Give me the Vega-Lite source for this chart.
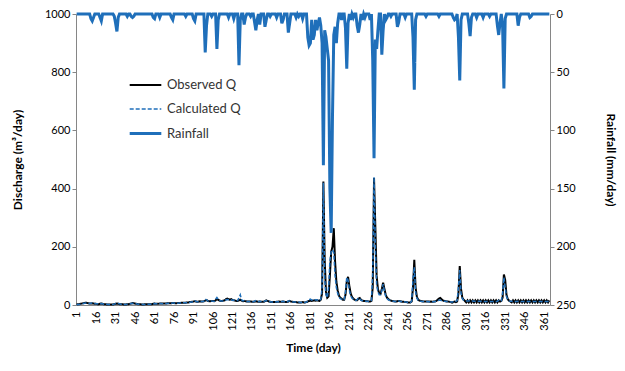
{
  "$schema": "https://vega.github.io/schema/vega-lite/v6.json",
  "width": 474,
  "height": 291,
  "autosize": "none",
  "padding": {"left": 76, "top": 14, "right": 75, "bottom": 66},
  "background": "white",
  "config": {
    "font": "Lato",
    "view": {"stroke": null},
    "axis": {"grid": false, "domainColor": "#868686", "tickColor": "#868686", "labelColor": "#000000", "labelFont": "Lato", "labelFontSize": 11, "titleFont": "Lato", "titleFontSize": 12, "titleFontWeight": "bold", "titleColor": "#000000", "tickSize": 4}
  },
  "data": {"values": [
{"d":1,"o":2,"c":1,"r":0},{"d":2,"o":3,"c":2,"r":0},{"d":3,"o":3,"c":2,"r":0},{"d":4,"o":4,"c":3,"r":0},{"d":5,"o":5,"c":4,"r":0},
{"d":6,"o":6,"c":5,"r":0},{"d":7,"o":7,"c":6,"r":0},{"d":8,"o":8,"c":7,"r":0},{"d":9,"o":7,"c":6,"r":0},{"d":10,"o":6,"c":5,"r":0},
{"d":11,"o":5,"c":5,"r":0},{"d":12,"o":5,"c":6,"r":4},{"d":13,"o":6,"c":7,"r":6},{"d":14,"o":5,"c":6,"r":3},{"d":15,"o":4,"c":5,"r":0},
{"d":16,"o":4,"c":4,"r":0},{"d":17,"o":3,"c":4,"r":0},{"d":18,"o":3,"c":3,"r":0},{"d":19,"o":4,"c":4,"r":3},{"d":20,"o":5,"c":5,"r":6},
{"d":21,"o":4,"c":4,"r":0},{"d":22,"o":3,"c":3,"r":0},{"d":23,"o":3,"c":3,"r":0},{"d":24,"o":2,"c":3,"r":0},{"d":25,"o":2,"c":2,"r":0},
{"d":26,"o":2,"c":2,"r":0},{"d":27,"o":2,"c":2,"r":0},{"d":28,"o":2,"c":2,"r":0},{"d":29,"o":2,"c":2,"r":0},{"d":30,"o":3,"c":3,"r":2},
{"d":31,"o":4,"c":5,"r":8},{"d":32,"o":5,"c":6,"r":15},{"d":33,"o":4,"c":5,"r":3},{"d":34,"o":3,"c":4,"r":0},{"d":35,"o":3,"c":3,"r":0},
{"d":36,"o":3,"c":3,"r":0},{"d":37,"o":2,"c":3,"r":0},{"d":38,"o":2,"c":2,"r":0},{"d":39,"o":2,"c":2,"r":0},{"d":40,"o":3,"c":3,"r":2},
{"d":41,"o":3,"c":3,"r":0},{"d":42,"o":4,"c":4,"r":0},{"d":43,"o":5,"c":5,"r":2},{"d":44,"o":7,"c":6,"r":3},{"d":45,"o":6,"c":5,"r":2},
{"d":46,"o":5,"c":4,"r":0},{"d":47,"o":4,"c":4,"r":0},{"d":48,"o":3,"c":3,"r":0},{"d":49,"o":3,"c":3,"r":0},{"d":50,"o":3,"c":3,"r":0},
{"d":51,"o":2,"c":3,"r":0},{"d":52,"o":2,"c":2,"r":0},{"d":53,"o":2,"c":2,"r":0},{"d":54,"o":3,"c":2,"r":0},{"d":55,"o":3,"c":3,"r":0},
{"d":56,"o":3,"c":3,"r":0},{"d":57,"o":3,"c":3,"r":0},{"d":58,"o":3,"c":3,"r":0},{"d":59,"o":3,"c":3,"r":0},{"d":60,"o":4,"c":4,"r":3},
{"d":61,"o":5,"c":5,"r":4},{"d":62,"o":4,"c":4,"r":0},{"d":63,"o":4,"c":4,"r":0},{"d":64,"o":4,"c":4,"r":0},{"d":65,"o":5,"c":5,"r":3},
{"d":66,"o":5,"c":5,"r":0},{"d":67,"o":5,"c":4,"r":0},{"d":68,"o":5,"c":5,"r":0},{"d":69,"o":5,"c":5,"r":0},{"d":70,"o":5,"c":5,"r":0},
{"d":71,"o":6,"c":5,"r":0},{"d":72,"o":6,"c":6,"r":0},{"d":73,"o":6,"c":6,"r":0},{"d":74,"o":6,"c":6,"r":3},{"d":75,"o":7,"c":7,"r":5},
{"d":76,"o":7,"c":7,"r":0},{"d":77,"o":6,"c":6,"r":0},{"d":78,"o":6,"c":6,"r":0},{"d":79,"o":7,"c":6,"r":0},{"d":80,"o":7,"c":7,"r":0},
{"d":81,"o":7,"c":7,"r":0},{"d":82,"o":8,"c":7,"r":0},{"d":83,"o":8,"c":8,"r":0},{"d":84,"o":8,"c":8,"r":0},{"d":85,"o":8,"c":8,"r":2},
{"d":86,"o":9,"c":8,"r":0},{"d":87,"o":9,"c":9,"r":0},{"d":88,"o":10,"c":9,"r":0},{"d":89,"o":10,"c":10,"r":0},{"d":90,"o":11,"c":10,"r":0},
{"d":91,"o":12,"c":12,"r":4},{"d":92,"o":13,"c":14,"r":6},{"d":93,"o":12,"c":12,"r":0},{"d":94,"o":11,"c":11,"r":0},{"d":95,"o":12,"c":11,"r":0},
{"d":96,"o":13,"c":12,"r":0},{"d":97,"o":12,"c":12,"r":0},{"d":98,"o":12,"c":12,"r":0},{"d":99,"o":13,"c":13,"r":0},{"d":100,"o":15,"c":20,"r":33},
{"d":101,"o":17,"c":18,"r":10},{"d":102,"o":14,"c":14,"r":0},{"d":103,"o":13,"c":13,"r":0},{"d":104,"o":13,"c":13,"r":0},{"d":105,"o":14,"c":14,"r":2},
{"d":106,"o":14,"c":13,"r":0},{"d":107,"o":13,"c":13,"r":0},{"d":108,"o":16,"c":20,"r":0},{"d":109,"o":20,"c":26,"r":30},{"d":110,"o":18,"c":20,"r":5},
{"d":111,"o":15,"c":16,"r":0},{"d":112,"o":14,"c":14,"r":0},{"d":113,"o":14,"c":14,"r":0},{"d":114,"o":15,"c":14,"r":0},{"d":115,"o":16,"c":15,"r":0},
{"d":116,"o":20,"c":18,"r":0},{"d":117,"o":22,"c":19,"r":0},{"d":118,"o":20,"c":18,"r":3},{"d":119,"o":18,"c":17,"r":0},{"d":120,"o":20,"c":18,"r":0},
{"d":121,"o":17,"c":16,"r":0},{"d":122,"o":16,"c":17,"r":4},{"d":123,"o":15,"c":15,"r":0},{"d":124,"o":14,"c":14,"r":0},{"d":125,"o":14,"c":15,"r":0},
{"d":126,"o":16,"c":25,"r":44},{"d":127,"o":18,"c":35,"r":5},{"d":128,"o":15,"c":18,"r":0},{"d":129,"o":13,"c":14,"r":0},{"d":130,"o":14,"c":15,"r":9},
{"d":131,"o":13,"c":13,"r":3},{"d":132,"o":12,"c":12,"r":0},{"d":133,"o":12,"c":12,"r":0},{"d":134,"o":12,"c":12,"r":0},{"d":135,"o":12,"c":12,"r":2},
{"d":136,"o":11,"c":11,"r":0},{"d":137,"o":11,"c":11,"r":0},{"d":138,"o":12,"c":13,"r":7},{"d":139,"o":13,"c":15,"r":14},{"d":140,"o":12,"c":13,"r":5},
{"d":141,"o":11,"c":11,"r":0},{"d":142,"o":12,"c":13,"r":9},{"d":143,"o":11,"c":12,"r":0},{"d":144,"o":11,"c":11,"r":0},{"d":145,"o":11,"c":11,"r":0},
{"d":146,"o":13,"c":14,"r":11},{"d":147,"o":16,"c":15,"r":5},{"d":148,"o":14,"c":13,"r":0},{"d":149,"o":12,"c":12,"r":0},{"d":150,"o":11,"c":11,"r":2},
{"d":151,"o":10,"c":10,"r":0},{"d":152,"o":10,"c":10,"r":0},{"d":153,"o":10,"c":10,"r":0},{"d":154,"o":10,"c":10,"r":0},{"d":155,"o":11,"c":11,"r":3},
{"d":156,"o":11,"c":11,"r":0},{"d":157,"o":12,"c":11,"r":0},{"d":158,"o":11,"c":11,"r":0},{"d":159,"o":11,"c":12,"r":8},{"d":160,"o":12,"c":13,"r":5},
{"d":161,"o":11,"c":11,"r":0},{"d":162,"o":10,"c":10,"r":0},{"d":163,"o":10,"c":10,"r":0},{"d":164,"o":12,"c":14,"r":16},{"d":165,"o":14,"c":14,"r":8},
{"d":166,"o":12,"c":12,"r":0},{"d":167,"o":11,"c":11,"r":0},{"d":168,"o":10,"c":10,"r":0},{"d":169,"o":10,"c":10,"r":0},{"d":170,"o":10,"c":10,"r":3},
{"d":171,"o":9,"c":10,"r":0},{"d":172,"o":9,"c":10,"r":2},{"d":173,"o":9,"c":9,"r":0},{"d":174,"o":9,"c":9,"r":0},{"d":175,"o":10,"c":10,"r":4},
{"d":176,"o":9,"c":9,"r":0},{"d":177,"o":9,"c":9,"r":0},{"d":178,"o":10,"c":10,"r":0},{"d":179,"o":12,"c":14,"r":20},{"d":180,"o":14,"c":18,"r":27},
{"d":181,"o":15,"c":20,"r":25},{"d":182,"o":14,"c":17,"r":5},{"d":183,"o":15,"c":19,"r":22},{"d":184,"o":16,"c":20,"r":18},{"d":185,"o":15,"c":17,"r":5},
{"d":186,"o":16,"c":18,"r":14},{"d":187,"o":15,"c":16,"r":8},{"d":188,"o":14,"c":15,"r":3},{"d":189,"o":18,"c":20,"r":10},{"d":190,"o":40,"c":60,"r":25},
{"d":191,"o":424,"c":420,"r":130},{"d":192,"o":155,"c":90,"r":14},{"d":193,"o":45,"c":35,"r":20},{"d":194,"o":25,"c":25,"r":30},{"d":195,"o":30,"c":60,"r":40},
{"d":196,"o":100,"c":150,"r":150},{"d":197,"o":183,"c":183,"r":188},{"d":198,"o":200,"c":190,"r":88},{"d":199,"o":264,"c":180,"r":18},{"d":200,"o":150,"c":100,"r":11},
{"d":201,"o":80,"c":60,"r":25},{"d":202,"o":50,"c":40,"r":8},{"d":203,"o":32,"c":28,"r":0},{"d":204,"o":25,"c":22,"r":0},{"d":205,"o":22,"c":20,"r":5},
{"d":206,"o":18,"c":17,"r":0},{"d":207,"o":18,"c":18,"r":0},{"d":208,"o":35,"c":45,"r":12},{"d":209,"o":80,"c":95,"r":47},{"d":210,"o":97,"c":85,"r":8},
{"d":211,"o":65,"c":50,"r":0},{"d":212,"o":40,"c":32,"r":5},{"d":213,"o":28,"c":24,"r":0},{"d":214,"o":22,"c":20,"r":3},{"d":215,"o":18,"c":17,"r":0},
{"d":216,"o":16,"c":16,"r":0},{"d":217,"o":16,"c":18,"r":10},{"d":218,"o":22,"c":24,"r":16},{"d":219,"o":24,"c":22,"r":9},{"d":220,"o":18,"c":16,"r":0},
{"d":221,"o":15,"c":15,"r":5},{"d":222,"o":14,"c":14,"r":0},{"d":223,"o":14,"c":14,"r":3},{"d":224,"o":13,"c":13,"r":0},{"d":225,"o":13,"c":13,"r":0},
{"d":226,"o":12,"c":12,"r":0},{"d":227,"o":12,"c":13,"r":5},{"d":228,"o":14,"c":16,"r":0},{"d":229,"o":60,"c":110,"r":40},{"d":230,"o":436,"c":440,"r":124},
{"d":231,"o":270,"c":200,"r":22},{"d":232,"o":100,"c":70,"r":30},{"d":233,"o":55,"c":45,"r":14},{"d":234,"o":40,"c":35,"r":0},{"d":235,"o":38,"c":35,"r":0},
{"d":236,"o":55,"c":50,"r":35},{"d":237,"o":77,"c":72,"r":14},{"d":238,"o":55,"c":48,"r":0},{"d":239,"o":35,"c":30,"r":5},{"d":240,"o":25,"c":22,"r":3},
{"d":241,"o":20,"c":18,"r":0},{"d":242,"o":17,"c":16,"r":0},{"d":243,"o":15,"c":15,"r":2},{"d":244,"o":14,"c":14,"r":0},{"d":245,"o":13,"c":13,"r":0},
{"d":246,"o":12,"c":12,"r":0},{"d":247,"o":12,"c":12,"r":0},{"d":248,"o":13,"c":14,"r":11},{"d":249,"o":14,"c":14,"r":7},{"d":250,"o":13,"c":13,"r":0},
{"d":251,"o":12,"c":12,"r":0},{"d":252,"o":11,"c":11,"r":0},{"d":253,"o":11,"c":11,"r":0},{"d":254,"o":10,"c":10,"r":3},{"d":255,"o":10,"c":10,"r":0},
{"d":256,"o":9,"c":9,"r":0},{"d":257,"o":9,"c":9,"r":0},{"d":258,"o":9,"c":9,"r":0},{"d":259,"o":12,"c":14,"r":0},{"d":260,"o":60,"c":90,"r":20},
{"d":261,"o":155,"c":130,"r":65},{"d":262,"o":60,"c":45,"r":5},{"d":263,"o":28,"c":24,"r":0},{"d":264,"o":18,"c":16,"r":0},{"d":265,"o":15,"c":14,"r":0},
{"d":266,"o":14,"c":13,"r":0},{"d":267,"o":13,"c":12,"r":0},{"d":268,"o":12,"c":12,"r":0},{"d":269,"o":12,"c":12,"r":0},{"d":270,"o":12,"c":12,"r":2},
{"d":271,"o":12,"c":12,"r":0},{"d":272,"o":12,"c":11,"r":0},{"d":273,"o":11,"c":11,"r":0},{"d":274,"o":12,"c":11,"r":0},{"d":275,"o":11,"c":11,"r":0},
{"d":276,"o":12,"c":11,"r":0},{"d":277,"o":12,"c":12,"r":0},{"d":278,"o":14,"c":13,"r":0},{"d":279,"o":18,"c":15,"r":0},{"d":280,"o":22,"c":16,"r":2},
{"d":281,"o":24,"c":16,"r":0},{"d":282,"o":20,"c":15,"r":0},{"d":283,"o":16,"c":14,"r":0},{"d":284,"o":14,"c":13,"r":0},{"d":285,"o":13,"c":13,"r":0},
{"d":286,"o":12,"c":12,"r":0},{"d":287,"o":12,"c":12,"r":0},{"d":288,"o":11,"c":11,"r":0},{"d":289,"o":10,"c":10,"r":0},{"d":290,"o":8,"c":10,"r":0},
{"d":291,"o":10,"c":11,"r":3},{"d":292,"o":12,"c":14,"r":5},{"d":293,"o":10,"c":12,"r":4},{"d":294,"o":12,"c":15,"r":0},{"d":295,"o":40,"c":60,"r":20},
{"d":296,"o":134,"c":120,"r":57},{"d":297,"o":55,"c":40,"r":5},{"d":298,"o":25,"c":22,"r":0},{"d":299,"o":18,"c":17,"r":0},{"d":300,"o":14,"c":15,"r":0},
{"d":301,"o":9,"c":14,"r":0},{"d":302,"o":16,"c":14,"r":0},{"d":303,"o":9,"c":14,"r":8},{"d":304,"o":16,"c":16,"r":19},{"d":305,"o":9,"c":14,"r":3},
{"d":306,"o":16,"c":14,"r":0},{"d":307,"o":9,"c":13,"r":0},{"d":308,"o":16,"c":13,"r":0},{"d":309,"o":9,"c":13,"r":3},{"d":310,"o":16,"c":13,"r":0},
{"d":311,"o":9,"c":13,"r":0},{"d":312,"o":16,"c":13,"r":0},{"d":313,"o":9,"c":12,"r":0},{"d":314,"o":16,"c":12,"r":3},{"d":315,"o":9,"c":12,"r":0},
{"d":316,"o":16,"c":12,"r":0},{"d":317,"o":9,"c":12,"r":0},{"d":318,"o":16,"c":12,"r":0},{"d":319,"o":9,"c":12,"r":2},{"d":320,"o":16,"c":12,"r":0},
{"d":321,"o":9,"c":12,"r":0},{"d":322,"o":16,"c":12,"r":0},{"d":323,"o":9,"c":12,"r":0},{"d":324,"o":16,"c":12,"r":0},{"d":325,"o":9,"c":13,"r":10},
{"d":326,"o":16,"c":16,"r":18},{"d":327,"o":12,"c":14,"r":8},{"d":328,"o":14,"c":14,"r":0},{"d":329,"o":25,"c":40,"r":10},{"d":330,"o":105,"c":95,"r":64},
{"d":331,"o":86,"c":60,"r":4},{"d":332,"o":35,"c":30,"r":0},{"d":333,"o":20,"c":18,"r":0},{"d":334,"o":15,"c":14,"r":0},{"d":335,"o":12,"c":13,"r":0},
{"d":336,"o":9,"c":13,"r":0},{"d":337,"o":16,"c":13,"r":0},{"d":338,"o":9,"c":12,"r":0},{"d":339,"o":16,"c":12,"r":0},{"d":340,"o":9,"c":12,"r":0},
{"d":341,"o":16,"c":13,"r":10},{"d":342,"o":9,"c":13,"r":3},{"d":343,"o":16,"c":12,"r":0},{"d":344,"o":9,"c":12,"r":0},{"d":345,"o":16,"c":12,"r":0},
{"d":346,"o":9,"c":12,"r":0},{"d":347,"o":16,"c":12,"r":0},{"d":348,"o":9,"c":12,"r":0},{"d":349,"o":16,"c":12,"r":0},{"d":350,"o":9,"c":12,"r":3},
{"d":351,"o":16,"c":12,"r":2},{"d":352,"o":9,"c":12,"r":0},{"d":353,"o":16,"c":12,"r":0},{"d":354,"o":9,"c":12,"r":0},{"d":355,"o":16,"c":12,"r":0},
{"d":356,"o":9,"c":12,"r":0},{"d":357,"o":16,"c":12,"r":0},{"d":358,"o":9,"c":12,"r":0},{"d":359,"o":16,"c":12,"r":0},{"d":360,"o":9,"c":12,"r":0},
{"d":361,"o":16,"c":12,"r":0},{"d":362,"o":9,"c":12,"r":0},{"d":363,"o":16,"c":12,"r":0},{"d":364,"o":9,"c":12,"r":0},{"d":365,"o":16,"c":12,"r":0}
  ]},
  "encoding": {
    "x": {"field": "d", "type": "quantitative", "title": "Time (day)",
      "scale": {"domain": [0.5, 365.5], "nice": false, "zero": false},
      "axis": {"values": [1,16,31,46,61,76,91,106,121,136,151,166,181,196,211,226,241,256,271,286,301,316,331,346,361], "labelAngle": -90, "ticks": false, "labelPadding": 6, "titlePadding": 12}
    },
    "color": {"field": "s", "type": "ordinal", "title": null,
      "scale": {"domain": ["o", "c", "r"], "range": ["#000000", "#1f6fba", "#1f6fba"]},
      "legend": {"orient": "none", "legendX": 52, "legendY": 54, "symbolType": "stroke", "symbolSize": 1000, "rowPadding": -6, "labelFontSize": 13, "labelFont": "Lato", "labelColor": "#333333", "labelOffset": 4, "padding": 0,
        "labelExpr": "datum.value == 'o' ? 'Observed Q' : datum.value == 'c' ? 'Calculated Q' : 'Rainfall'"}
    },
    "strokeDash": {"field": "s", "type": "ordinal", "title": null,
      "scale": {"domain": ["o", "c", "r"], "range": [[1, 0], [4, 2], [1, 0]]}
    },
    "strokeWidth": {"field": "s", "type": "ordinal", "title": null,
      "scale": {"type": "ordinal", "domain": ["o", "c", "r"], "range": [2, 1.5, 3]}
    }
  },
  "layer": [
    {
      "transform": [{"fold": ["o", "c"], "as": ["s", "v"]}],
      "mark": {"type": "line"},
      "encoding": {
        "y": {"field": "v", "type": "quantitative", "title": "Discharge (m³/day)",
          "scale": {"domain": [0, 1000], "nice": false},
          "axis": {"values": [0, 200, 400, 600, 800, 1000], "format": "d", "titlePadding": 20}
        }
      }
    },
    {
      "transform": [{"fold": ["r"], "as": ["s", "v"]}],
      "mark": {"type": "line"},
      "encoding": {
        "y": {"field": "v", "type": "quantitative", "title": "Rainfall (mm/day)",
          "scale": {"domain": [0, 250], "reverse": true, "nice": false},
          "axis": {"orient": "right", "values": [0, 50, 100, 150, 200, 250], "titlePadding": 28}
        }
      }
    }
  ],
  "resolve": {"scale": {"y": "independent"}}
}
